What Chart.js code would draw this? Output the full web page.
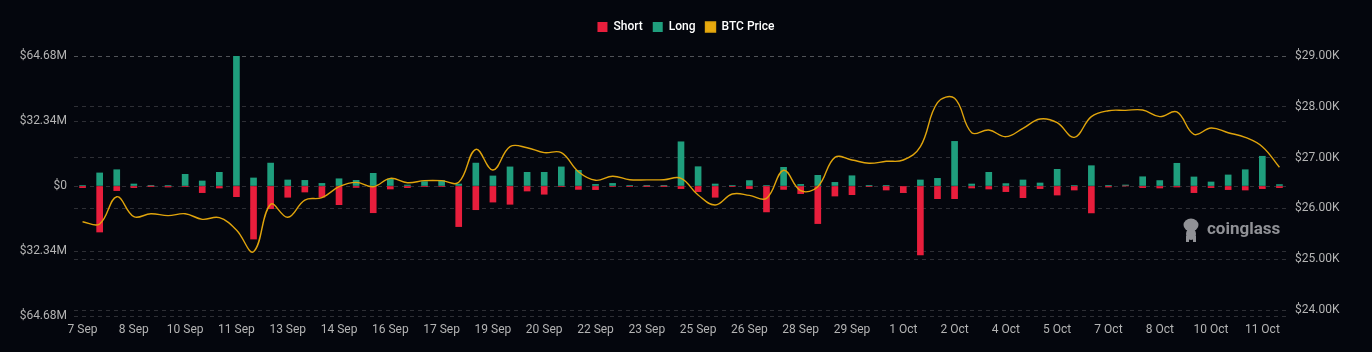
<!DOCTYPE html>
<html>
<head>
<meta charset="utf-8">
<script src="https://cdn.jsdelivr.net/npm/chart.js@4"></script>
<style>
  html, body { margin: 0; padding: 0; background: #04060d; }
  #wrap { width: 1372px; height: 352px; }
</style>
</head>
<body>
<div id="wrap"><canvas id="liqChart"></canvas></div>
<script>
Chart.defaults.font.family = "Roboto, 'Noto Sans', sans-serif";
Chart.defaults.font.size = 12;
Chart.defaults.color = "#b4b4b4";

// x labels shown every 3rd slot (12h bars, 1.5 days per label)
const DAY_LABELS = [
  "7 Sep", "8 Sep", "10 Sep", "11 Sep", "13 Sep", "14 Sep", "16 Sep", "17 Sep",
  "19 Sep", "20 Sep", "22 Sep", "23 Sep", "25 Sep", "26 Sep", "28 Sep", "29 Sep",
  "1 Oct", "2 Oct", "4 Oct", "5 Oct", "7 Oct", "8 Oct", "10 Oct", "11 Oct",
];

// liquidations in $M
const LONG_M = [
  0.2, 6.5, 8.1, 1.0, 0.05, 0.2, 5.8, 2.5, 6.8, 64.68, 4.0, 11.4,
  3.0, 2.8, 1.3, 3.6, 2.8, 6.3, 3.5, 0.5, 2.2, 2.8, 1.0, 11.4,
  5.0, 9.5, 6.8, 6.8, 9.5, 7.8, 0.8, 1.3, 0.2, 0.05, 0.05, 22.0,
  9.6, 1.0, 0.3, 2.7, 0.2, 9.3, 0.8, 5.3, 1.8, 5.1, 0.05,
  0.05, 0, 3.0, 3.8, 22.2, 1.0, 6.8, 1.2, 3.0, 1.5, 8.3, 0.2,
  10.1, 0.05, 0.5, 4.6, 2.7, 11.3, 4.5, 2.0, 5.5, 8.1, 14.8, 0.7,
];

const SHORT_M = [
  0.8, 22.9, 2.3, 0.8, 0.05, 0.5, 0.2, 3.3, 1.0, 5.3, 26.4, 11.3,
  5.6, 3.0, 5.6, 9.3, 0.7, 13.3, 1.5, 0.8, 0.3, 0.3, 20.2, 11.8,
  8.0, 9.1, 2.5, 4.1, 0.3, 1.7, 1.8, 0.3, 0.2, 0.05, 0.05, 1.3,
  2.8, 5.6, 0.3, 1.3, 12.9, 1.7, 3.8, 18.7, 5.0, 4.3, 0.3,
  2.0, 3.3, 34.3, 6.3, 6.3, 1.0, 1.5, 2.8, 5.8, 1.3, 4.5, 2.0,
  13.4, 0.5, 0, 0.8, 1.0, 0.5, 3.3, 0.8, 1.8, 2.0, 1.3, 0.8,
];

const BTC_PRICE = [
  25738, 25693, 26230, 25837, 25896, 25857, 25896, 25785, 25817, 25575, 25148, 26081,
  25825, 26165, 26211, 26427, 26513, 26427, 26592, 26506, 26546, 26546, 26513, 27163,
  26756, 27215, 27195, 27097, 27097, 26722, 26553, 26632, 26565, 26562, 26565, 26592,
  26264, 26067, 26283, 26257, 26198, 26750, 26349, 26427, 27005, 26953, 26888,
  26927, 26953, 27215, 28081, 28167, 27490, 27543, 27412, 27576, 27760, 27687, 27399,
  27806, 27923, 27930, 27937, 27806, 27898, 27458, 27583, 27490, 27399, 27215, 26809,
];

const LIQ_TICKS = [-64.68, -32.34, 0, 32.34, 64.68];
const PRICE_TICKS = [24000, 25000, 26000, 27000, 28000, 29000];

const labels = BTC_PRICE.map((_, i) => (i % 3 === 0 ? DAY_LABELS[i / 3] : ""));

const GRID = "rgba(255, 255, 255, 0.17)";

// make the legend block a fixed height so the plot starts where the original does
const legendHeight = {
  id: "legendHeight",
  beforeInit(chart) {
    const fit = chart.legend.fit;
    chart.legend.fit = function () {
      fit.bind(chart.legend)();
      this.height = 45;
    };
  },
};

// coinglass watermark
const watermark = {
  id: "watermark",
  afterDatasetsDraw(chart) {
    const c = chart.ctx;
    c.save();
    c.fillStyle = "#909196";
    // little mascot
    c.beginPath();
    c.ellipse(1191, 225, 7.5, 6.5, 0, 0, Math.PI * 2);
    c.fill();
    c.beginPath();
    c.ellipse(1191, 234, 5, 6, 0, 0, Math.PI * 2);
    c.fill();
    c.fillRect(1186, 236, 3, 6);
    c.fillRect(1193, 236, 3, 6);
    c.font = "bold 17px Roboto, sans-serif";
    c.textBaseline = "middle";
    c.fillText("coinglass", 1207, 230);
    c.restore();
  },
};

new Chart(document.getElementById("liqChart"), {
  type: "bar",
  data: {
    labels: labels,
    datasets: [
      {
        label: "Short",
        data: SHORT_M.map((v) => -v),
        backgroundColor: "#e81e3c",
        yAxisID: "y",
        stack: "liq",
        barThickness: 6,
        order: 1,
      },
      {
        label: "Long",
        data: LONG_M,
        backgroundColor: "#1f9e7d",
        yAxisID: "y",
        stack: "liq",
        barThickness: 6,
        order: 1,
      },
      {
        type: "line",
        label: "BTC Price",
        data: BTC_PRICE,
        yAxisID: "y1",
        borderColor: "#e0a40c",
        backgroundColor: "#e8a90e",
        borderWidth: 1.4,
        pointRadius: 0,
        tension: 0.4,
        fill: false,
        order: 0,
      },
    ],
  },
  options: {
    responsive: true,
    maintainAspectRatio: false,
    animation: false,
    layout: { padding: { top: 11 } },
    scales: {
      x: {
        stacked: true,
        grid: { display: false, drawTicks: false },
        border: { display: false },
        ticks: {
          autoSkip: false,
          maxRotation: 0,
          padding: 7,
          color: "#b4b4b4",
          font: { size: 12 },
        },
        afterFit: (scale) => {
          scale.height = 36;
        },
      },
      y: {
        position: "left",
        stacked: true,
        min: -64.68,
        max: 64.68,
        afterBuildTicks: (scale) => {
          scale.ticks = LIQ_TICKS.map((v) => ({ value: v }));
        },
        grid: { color: GRID, drawTicks: false },
        border: { display: false, dash: [4, 4] },
        ticks: {
          padding: 7,
          callback: (value) =>
            value === 0 ? "$0" : `$${Math.abs(value).toFixed(2)}M`,
        },
        afterFit: (scale) => {
          scale.width = 74;
        },
      },
      y1: {
        position: "right",
        min: 23882,
        max: 29000,
        afterBuildTicks: (scale) => {
          scale.ticks = PRICE_TICKS.map((v) => ({ value: v }));
        },
        grid: { color: GRID, drawTicks: false },
        border: { display: false, dash: [4, 4] },
        ticks: {
          padding: 7,
          callback: (value) => `$${(value / 1000).toFixed(2)}K`,
        },
        afterFit: (scale) => {
          scale.width = 84;
        },
      },
    },
    plugins: {
      tooltip: { enabled: false },
      legend: {
        position: "top",
        labels: {
          color: "#ffffff",
          boxWidth: 10,
          boxHeight: 10,
          padding: 10,
          font: { size: 12, weight: "500" },
          // keep dataset order rather than draw order
          sort: (a, b) => a.datasetIndex - b.datasetIndex,
        },
      },
    },
  },
  plugins: [legendHeight, watermark],
});
</script>
</body>
</html>
